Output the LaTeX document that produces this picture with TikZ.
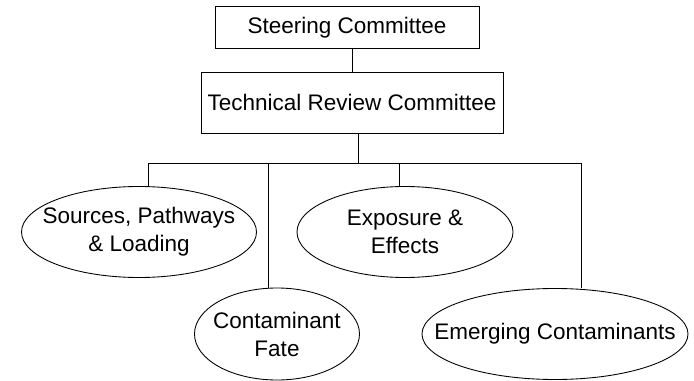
\documentclass[tikz,border=0pt]{standalone}
\usepackage{fontspec}
\setmainfont{Liberation Sans}
\usetikzlibrary{shapes.geometric}
\usetikzlibrary{calc}

\begin{document}
\begin{tikzpicture}[
  >=latex,
  line width=0.5pt,
  every node/.style={font=\fontsize{12.8}{15.9}\selectfont},
  comm/.style={
      draw,
      inner sep=0pt,
      align=center
  },
  group/.style={
      draw,
      ellipse,
      align=center,
      inner xsep=-0.6cm,
      inner ysep=-0.3cm
  }
]

\useasboundingbox (0,0) rectangle (13.88,-7.62);

\node[comm, minimum width=5.28cm, minimum height=0.84cm] (steer) at (6.94,-0.55)
{Steering Committee};

\node[comm, minimum width=6.04cm, minimum height=1.22cm] (tech) at (7.04,-2.05)
{Technical Review Committee};

\node[group, minimum width=4.70cm, minimum height=1.82cm] (src) at (2.78,-4.64)
{Sources, Pathways\\
\& Loading};

\node[group, minimum width=3.30cm, minimum height=1.84cm] (fate) at (5.54,-6.68)
{Contaminant\\
Fate};

\node[group, minimum width=4.32cm, minimum height=1.82cm] (expo) at (8.10,-4.64)
{Exposure \&\\
Effects};

\node[group, minimum width=5.32cm, minimum height=1.82cm] (emg) at (11.10,-6.68)
{Emerging Contaminants};

% bus under the review committee
\coordinate (bus) at (7.16,-3.26);
\coordinate (b1) at (2.96,-3.26);
\coordinate (b2) at (5.36,-3.26);
\coordinate (b3) at (7.98,-3.26);
\coordinate (b4) at (11.62,-3.26);

\draw (tech.north) -- (tech.north |- steer.south);
\draw (bus |- tech.south) -- (bus);
\draw (b1) -- (b4);

\draw (b1) -- (b1 |- src.north);
\draw (b2) -- (b2 |- fate.north);
\draw (b3) -- (b3 |- expo.north);
\draw (b4) -- (b4 |- emg.north);

\end{tikzpicture}
\end{document}
